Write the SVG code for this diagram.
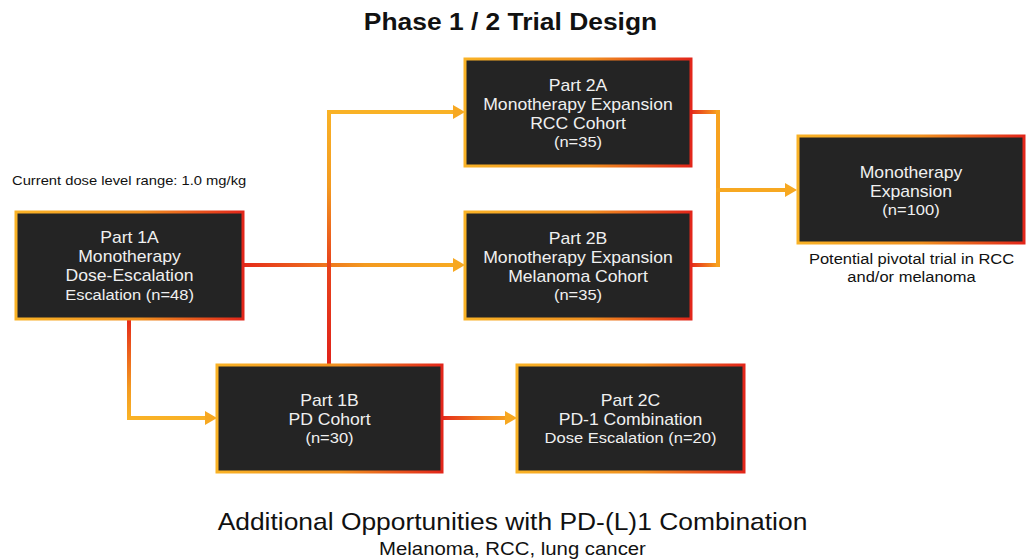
<svg xmlns="http://www.w3.org/2000/svg" width="1027" height="560" viewBox="0 0 1027 560">
<style>
.box{fill:#242424;stroke:url(#bg);stroke-width:3}
.t{font-family:"Liberation Sans",Arial,sans-serif;fill:#f0f0f0;font-size:16px;text-anchor:middle}
.s{font-size:15px}
.o{font-family:"Liberation Sans",Arial,sans-serif;fill:#111;text-anchor:middle}
.c{fill:none;stroke-width:4;stroke-linejoin:miter}
</style>
<defs>
<linearGradient id="bg" x1="0" y1="0" x2="1" y2="0">
<stop offset="0" stop-color="#f9b226"/>
<stop offset="0.55" stop-color="#f0901f"/>
<stop offset="1" stop-color="#e2261a"/>
</linearGradient>
<linearGradient id="g1" gradientUnits="userSpaceOnUse" x1="243" y1="0" x2="465" y2="0">
<stop offset="0" stop-color="#e52a1a"/><stop offset="0.55" stop-color="#f39a20"/><stop offset="1" stop-color="#f8ac22"/>
</linearGradient>
<linearGradient id="g2" gradientUnits="userSpaceOnUse" x1="329" y1="365" x2="329" y2="110">
<stop offset="0" stop-color="#e0221a"/><stop offset="0.4" stop-color="#e8441c"/><stop offset="0.7" stop-color="#f39a20"/><stop offset="1" stop-color="#f9b226"/>
</linearGradient>
<linearGradient id="g3" gradientUnits="userSpaceOnUse" x1="0" y1="319" x2="0" y2="418">
<stop offset="0" stop-color="#e52a1a"/><stop offset="0.7" stop-color="#f39a20"/><stop offset="1" stop-color="#f9b226"/>
</linearGradient>
<linearGradient id="g4" gradientUnits="userSpaceOnUse" x1="442" y1="0" x2="517" y2="0">
<stop offset="0" stop-color="#e52a1a"/><stop offset="0.5" stop-color="#f07a1e"/><stop offset="1" stop-color="#f8ac22"/>
</linearGradient>
<linearGradient id="g5" gradientUnits="userSpaceOnUse" x1="691" y1="0" x2="718" y2="0">
<stop offset="0" stop-color="#e52a1a"/><stop offset="1" stop-color="#f7a21f"/>
</linearGradient>
<marker id="ah" markerUnits="userSpaceOnUse" markerWidth="12" markerHeight="14" viewBox="0 0 12 14" refX="2" refY="7" orient="auto">
<path d="M0,0 L12,7 L0,14 Z" fill="#f7a821"/>
</marker>
</defs>
<rect width="1027" height="560" fill="#ffffff"/>

<g id="title">
<g transform="translate(510.5,0) scale(1.1,1)">
<text class="o" x="0" y="30" style="font-size:24px;font-weight:bold">Phase 1 / 2 Trial Design</text>
</g>
</g>

<g id="dose-note">
<g transform="translate(12,0) scale(1.1,1)">
<text x="0" y="185" style="font-family:'Liberation Sans',Arial,sans-serif;font-size:13.4px;fill:#111">Current dose level range: 1.0 mg/kg</text>
</g>
</g>

<g id="connectors">
<path class="c" stroke="url(#g1)" d="M243,265 H455" marker-end="url(#ah)"/>
<path class="c" stroke="url(#g2)" d="M329,365 V110"/>
<path class="c" stroke="#f9b226" d="M327,112 H455" marker-end="url(#ah)"/>
<path class="c" stroke="url(#g3)" d="M129,319 V418 H207" marker-end="url(#ah)"/>
<path class="c" stroke="url(#g4)" d="M442,418 H507" marker-end="url(#ah)"/>
<path class="c" stroke="url(#g5)" d="M691,112 H718"/>
<path class="c" stroke="url(#g5)" d="M691,265 H718"/>
<path class="c" stroke="#f7a21f" d="M718,110 V267"/>
<path class="c" stroke="#f7a821" d="M716,190 H787" marker-end="url(#ah)"/>
</g>

<g id="part1a">
<rect class="box" x="16" y="212" width="227" height="107"/>
<g transform="translate(129.5,0) scale(1.1,1)">
<text class="t" x="0" y="243">Part 1A</text>
<text class="t" x="0" y="262">Monotherapy</text>
<text class="t" x="0" y="281">Dose-Escalation</text>
<text class="t s" x="0" y="300">Escalation (n=48)</text>
</g>
</g>

<g id="part2a">
<rect class="box" x="465" y="59" width="226" height="107"/>
<g transform="translate(578,0) scale(1.1,1)">
<text class="t" x="0" y="91">Part 2A</text>
<text class="t" x="0" y="110">Monotherapy Expansion</text>
<text class="t" x="0" y="129">RCC Cohort</text>
<text class="t s" x="0" y="147">(n=35)</text>
</g>
</g>

<g id="part2b">
<rect class="box" x="465" y="212" width="226" height="107"/>
<g transform="translate(578,0) scale(1.1,1)">
<text class="t" x="0" y="244">Part 2B</text>
<text class="t" x="0" y="263">Monotherapy Expansion</text>
<text class="t" x="0" y="282">Melanoma Cohort</text>
<text class="t s" x="0" y="300">(n=35)</text>
</g>
</g>

<g id="mono-expansion">
<rect class="box" x="798" y="136" width="226" height="107"/>
<g transform="translate(911,0) scale(1.1,1)">
<text class="t" x="0" y="178">Monotherapy</text>
<text class="t" x="0" y="197">Expansion</text>
<text class="t s" x="0" y="215">(n=100)</text>
</g>
</g>

<g id="pivotal-note">
<g transform="translate(911.5,0) scale(1.1,1)">
<text class="o" x="0" y="264" style="font-size:15px">Potential pivotal trial in RCC</text>
<text class="o" x="0" y="282" style="font-size:15px">and/or melanoma</text>
</g>
</g>

<g id="part1b">
<rect class="box" x="217" y="365" width="225" height="107"/>
<g transform="translate(329.5,0) scale(1.1,1)">
<text class="t" x="0" y="406">Part 1B</text>
<text class="t" x="0" y="425">PD Cohort</text>
<text class="t s" x="0" y="443">(n=30)</text>
</g>
</g>

<g id="part2c">
<rect class="box" x="517" y="365" width="227" height="107"/>
<g transform="translate(630.5,0) scale(1.1,1)">
<text class="t" x="0" y="406">Part 2C</text>
<text class="t" x="0" y="425">PD-1 Combination</text>
<text class="t s" x="0" y="443">Dose Escalation (n=20)</text>
</g>
</g>

<g id="footer">
<g transform="translate(512.5,0) scale(1.1,1)">
<text class="o" x="0" y="530" style="font-size:24px">Additional Opportunities with PD-(L)1 Combination</text>
<text class="o" x="0" y="555" style="font-size:18.5px">Melanoma, RCC, lung cancer</text>
</g>
</g>
</svg>
